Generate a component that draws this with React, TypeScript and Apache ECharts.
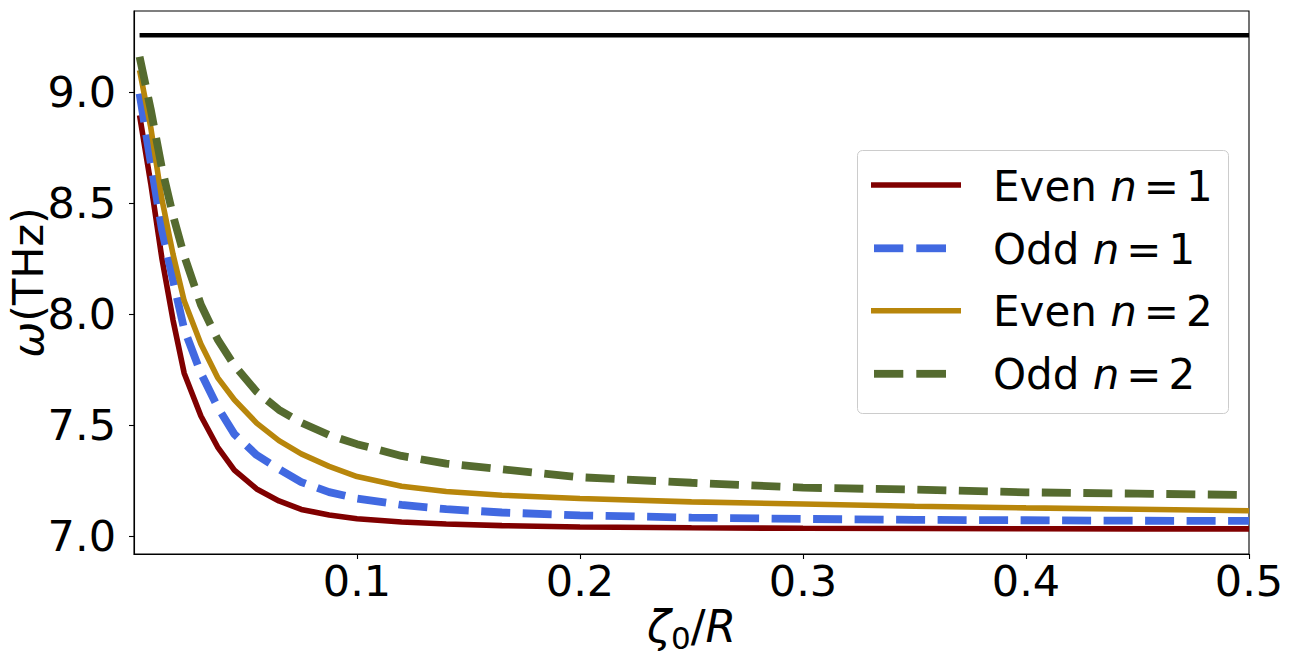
import React, { useEffect, useRef } from "react";
import * as echarts from "echarts";

const xValues = [0.0025, 0.0075, 0.0125, 0.0175, 0.0225, 0.03, 0.0375, 0.045, 0.055, 0.065, 0.075, 0.0875, 0.1, 0.12, 0.14, 0.165, 0.2, 0.25, 0.3, 0.35, 0.4, 0.45, 0.5];
const evenN1 = [8.896, 8.59, 8.252, 7.973, 7.734, 7.541, 7.401, 7.297, 7.212, 7.158, 7.12, 7.095, 7.078, 7.063, 7.054, 7.047, 7.041, 7.037, 7.035, 7.034, 7.033, 7.032, 7.032];
const oddN1 = [8.994, 8.685, 8.383, 8.153, 7.932, 7.734, 7.581, 7.459, 7.365, 7.302, 7.243, 7.198, 7.169, 7.14, 7.121, 7.106, 7.093, 7.083, 7.077, 7.073, 7.071, 7.069, 7.068];
const evenN2 = [9.099, 8.842, 8.518, 8.27, 8.06, 7.865, 7.714, 7.614, 7.509, 7.43, 7.37, 7.314, 7.268, 7.224, 7.201, 7.184, 7.169, 7.154, 7.144, 7.134, 7.127, 7.121, 7.114];
const oddN2 = [9.16, 8.923, 8.658, 8.444, 8.263, 8.042, 7.886, 7.769, 7.65, 7.569, 7.511, 7.455, 7.414, 7.361, 7.326, 7.301, 7.265, 7.24, 7.218, 7.209, 7.197, 7.191, 7.185];
const upperBound = 9.257;
const xTicks = [0.1, 0.2, 0.3, 0.4, 0.5];
const yTicks = [7.0, 7.5, 8.0, 8.5, 9.0];
const seriesNames = ["Even n=1", "Odd n=1", "Even n=2", "Odd n=2"];
const legendLabels = ["Even {i|n}{e|=}1", "Odd {i|n}{e|=}1", "Even {i|n}{e|=}2", "Odd {i|n}{e|=}2"];
const colors = ["#800000", "#4169e1", "#b8860b", "#556b2f"];

const FONT = "DejaVu Sans";

export default function App() {
  const ref = useRef<HTMLDivElement>(null);
  useEffect(() => {
    document.body.style.margin = "0";
    const chart = echarts.init(ref.current!, null, { renderer: "svg" });
    const pairs = (ys: number[]) => xValues.map((x, i) => [x, ys[i]]);
    const allY = [evenN1, oddN1, evenN2, oddN2];
    const dashed = [false, true, false, true];
    const series: any[] = [
      {
        type: "line",
        name: "bound",
        data: [[xValues[0], upperBound], [xValues[xValues.length - 1], upperBound]],
        symbol: "none",
        lineStyle: { color: "#000", width: 4.5 },
        silent: true,
      },
      ...allY.map((ys, k) => ({
        type: "line",
        name: seriesNames[k],
        data: pairs(ys),
        symbol: "none",
        showSymbol: false,
        lineStyle: dashed[k]
          ? { color: colors[k], width: 7.8, type: [29, 12.5], cap: "butt" }
          : { color: colors[k], width: 5.6 },
      })),
    ];

    const rowY = [185, 248.3, 310.7, 373.8];
    const legendItems: any[] = [
      {
        type: "rect",
        shape: { x: 857.5, y: 150.5, width: 371, height: 263, r: 5 },
        style: { fill: "rgba(255,255,255,0.8)", stroke: "#cccccc", lineWidth: 1 },
      },
    ];
    rowY.forEach((y, k) => {
      if (dashed[k]) {
        legendItems.push({ type: "line", shape: { x1: 874, y1: y, x2: 903.3, y2: y }, style: { stroke: colors[k], lineWidth: 7.8 } });
        legendItems.push({ type: "line", shape: { x1: 916.3, y1: y, x2: 946, y2: y }, style: { stroke: colors[k], lineWidth: 7.8 } });
      } else {
        legendItems.push({ type: "line", shape: { x1: 871, y1: y, x2: 961, y2: y }, style: { stroke: colors[k], lineWidth: 5.6 } });
      }
      legendItems.push({
        type: "text",
        style: {
          text: legendLabels[k],
          x: 993,
          y: y + 1,
          verticalAlign: "middle",
          fontSize: 42,
          fontFamily: FONT,
          fill: "#000",
          rich: {
            i: { fontSize: 42, fontFamily: FONT, fontStyle: "italic", fill: "#000" },
            e: { fontSize: 42, fontFamily: FONT, padding: [0, 7, 0, 7], fill: "#000" },
          },
        },
      });
    });

    chart.setOption({
      animation: false,
      grid: {
        left: 134, top: 11, width: 1115, height: 543,
        containLabel: false, outerBoundsMode: "none",
        show: true, borderColor: "#000", borderWidth: 1.1, backgroundColor: "transparent",
      },
      xAxis: {
        type: "value",
        min: 0,
        max: 0.5,
        axisLine: { show: true, lineStyle: { color: "#000", width: 1.1 } },
        axisTick: { show: true, length: 5, lineStyle: { color: "#000", width: 1.1 }, customValues: xTicks },
        axisLabel: { customValues: xTicks, formatter: (v: number) => v.toFixed(1), fontSize: 43, fontFamily: FONT, color: "#000", margin: 5 },
        splitLine: { show: false },
        name: "{i|ζ}{s|0}{n|/}{i|R}",
        nameLocation: "middle",
        nameGap: 46,
        nameMoveOverlap: false,
        nameTextStyle: {
          fontSize: 44,
          fontFamily: FONT,
          color: "#000",
          rich: {
            i: { fontSize: 44, fontFamily: FONT, fontStyle: "italic", color: "#000" },
            n: { fontSize: 44, fontFamily: FONT, color: "#000" },
            s: { fontSize: 31, fontFamily: FONT, color: "#000", padding: [22, 0, 0, 0] },
          },
        },
      },
      yAxis: {
        type: "value",
        min: 6.919,
        max: 9.366,
        axisLine: { show: true, lineStyle: { color: "#000", width: 1.1 } },
        axisTick: { show: true, length: 5, lineStyle: { color: "#000", width: 1.1 }, customValues: yTicks },
        axisLabel: { customValues: yTicks, formatter: (v: number) => v.toFixed(1), fontSize: 43, fontFamily: FONT, color: "#000", margin: 18 },
        splitLine: { show: false },
        name: "{i|ω}(THz)",
        nameLocation: "middle",
        nameGap: 86,
        nameRotate: 90,
        nameMoveOverlap: false,
        nameTextStyle: {
          fontSize: 43,
          lineHeight: 40,
          fontFamily: FONT,
          color: "#000",
          rich: {
            i: { fontSize: 43, lineHeight: 40, fontFamily: FONT, fontStyle: "italic", color: "#000" },
          },
        },
      },
      series,
      graphic: [{ type: "group", z: 100, children: legendItems }],
    });
    return () => chart.dispose();
  }, []);
  return <div ref={ref} style={{ width: 1291, height: 664 }} />;
}
